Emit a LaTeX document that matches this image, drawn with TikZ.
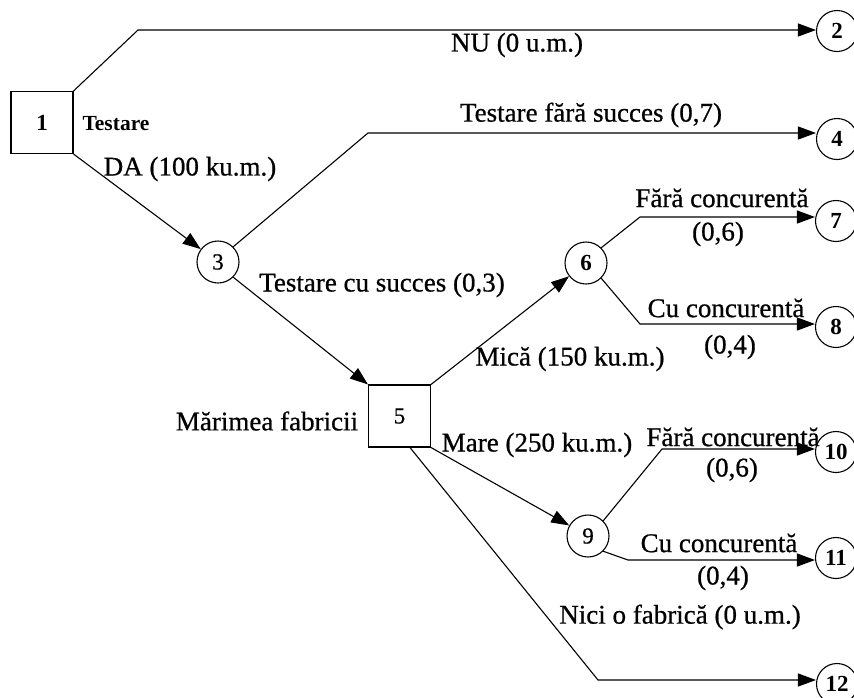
\documentclass[tikz,border=0pt]{standalone}
\usepackage{fontspec}
\setmainfont{Liberation Serif}
% a slightly heavier regular face for the branch labels
\newfontfamily\heavyserif{Liberation Serif}[BoldFont=Liberation Serif,BoldFeatures={FakeBold=0.7}]
\usetikzlibrary{arrows.meta}
\begin{document}
\begin{tikzpicture}[x=1pt,y=-1pt,
  line width=1.1pt,
  decision/.style={draw,rectangle,minimum width=62pt,minimum height=62pt,inner sep=0pt,
    font=\fontsize{23}{25}\selectfont\bfseries},
  chance/.style={draw,circle,minimum size=42pt,inner sep=0pt,
    font=\fontsize{23}{25}\selectfont\bfseries},
  leaf/.style={draw,circle,minimum size=41pt,inner sep=0pt,
    font=\fontsize{23}{25}\selectfont\bfseries},
  plain/.style={font=\fontsize{23}{25}\selectfont\heavyserif\bfseries},
  lbl/.style={inner sep=0pt,font=\fontsize{27}{30}\selectfont\heavyserif\bfseries},
  small/.style={inner sep=0pt,font=\fontsize{21.5}{23}\selectfont\bfseries},
  arr/.style={-{Triangle[length=18pt,width=13pt]}}]
\useasboundingbox (0,0) rectangle (854,697);

% decision and chance nodes
\node[decision] (n1) at (42,122.5) {1};
\node[decision,plain] (n5) at (399.5,416) {5};
\node[chance,plain] (n3) at (218,262) {3};
\node[chance] (n6) at (586,263) {6};
\node[chance,plain] (n9) at (588,536) {9};

% end nodes
\node[leaf] (n2) at (837,31) {2};
\node[leaf] (n4) at (837,139) {4};
\node[leaf] (n7) at (836,221) {7};
\node[leaf] (n8) at (836,327) {8};
\node[leaf] (n10) at (836,452) {10};
\node[leaf] (n11) at (836,558) {11};
\node[leaf] (n12) at (837,684) {12};

% bends of the branches
\coordinate (k2) at (138,30);
\coordinate (k4) at (368,133);
\coordinate (k7) at (640,217);
\coordinate (k8) at (640,324);
\coordinate (k10) at (662,449);
\coordinate (k11) at (628,560);
\coordinate (k12) at (598,680);

% branches
\draw[arr] (n1.north east) -- (k2) -- (k2 -| n2.west);
\draw[arr] (n1.south east) -- (n3);
\draw[arr] (n3.45) -- (k4) -- (k4 -| n4.west);
\draw[arr] (n3.-45) -- (n5.north west);
\draw[arr] (n5.north east) -- (n6);
\draw[arr] (n6.45) -- (k7) -- (k7 -| n7.west);
\draw[arr] (n6.-45) -- (k8) -- (k8 -| n8.west);
\draw[arr] (n5.south east) -- (n9);
\draw[arr] (n9.45) -- (k10) -- (k10 -| n10.west);
\draw[arr] (n9.-45) -- (k11) -- (k11 -| n11.west);
\draw[arr] ([xshift=10.5pt]n5.south) -- (k12) -- (k12 -| n12.west);

% labels
\node[small] (tTest) at (116,124) {Testare};
\node[lbl] (tNU) at (517,45) {NU (0 u.m.)};
\node[lbl] (tDA) at (190,169) {DA (100 ku.m.)};
\node[lbl] (tTFS) at (591,115) {Testare fără succes (0,7)};
\node[lbl] (tTCS) at (382,285) {Testare cu succes (0,3)};
\node[lbl] (tF7) at (722,198) {Fără concurentă};
\node[lbl] (tP7) at (718,234) {(0,6)};
\node[lbl] (tC8) at (726,308) {Cu concurentă};
\node[lbl] (tP8) at (730,347) {(0,4)};
\node[lbl] (tMica) at (570,359) {Mică (150 ku.m.)};
\node[lbl] (tMar) at (267,421) {Mărimea fabricii};
\node[lbl] (tMare) at (537,445) {Mare (250 ku.m.)};
\node[lbl] (tF10) at (733,437) {Fără concurentă};
\node[lbl] (tP10) at (732,470) {(0,6)};
\node[lbl] (tC11) at (719,543) {Cu concurentă};
\node[lbl] (tP11) at (723,578) {(0,4)};
\node[lbl] (tNici) at (680,617) {Nici o fabrică (0 u.m.)};
\end{tikzpicture}
\end{document}
